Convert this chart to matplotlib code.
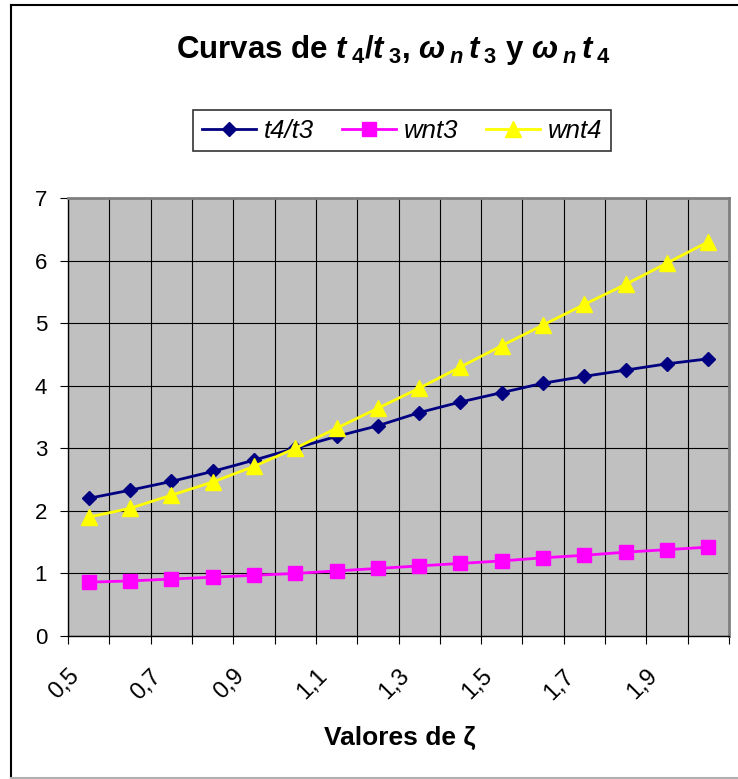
import numpy as np
import matplotlib
matplotlib.use("Agg")
import matplotlib.pyplot as plt
from matplotlib.lines import Line2D
from matplotlib.transforms import ScaledTranslation

# ---- data ----
categories = ['0,5', '0,6', '0,7', '0,8', '0,9', '1', '1,1', '1,2',
              '1,3', '1,4', '1,5', '1,6', '1,7', '1,8', '1,9', '2']
t4_t3 = [2.20, 2.33, 2.47, 2.63, 2.81, 3.00, 3.19, 3.36,
         3.57, 3.74, 3.89, 4.04, 4.15, 4.25, 4.35, 4.43]
wnt3 = [0.86, 0.88, 0.91, 0.94, 0.97, 1.00, 1.04, 1.08,
        1.12, 1.16, 1.20, 1.25, 1.29, 1.34, 1.38, 1.42]
wnt4 = [1.90, 2.04, 2.25, 2.46, 2.71, 3.00, 3.32, 3.64,
        3.96, 4.30, 4.64, 4.97, 5.30, 5.62, 5.96, 6.30]
y_ticks = [0, 1, 2, 3, 4, 5, 6, 7]
series_names = ['t4/t3', 'wnt3', 'wnt4']

plt.rcParams['font.family'] = ['Liberation Sans', 'DejaVu Sans']
plt.rcParams['mathtext.fontset'] = 'custom'
plt.rcParams['mathtext.rm'] = 'Liberation Sans:bold'
plt.rcParams['mathtext.bf'] = 'Liberation Sans:bold'
plt.rcParams['mathtext.it'] = 'Liberation Sans:italic:bold'

W, H = 738, 779
fig = plt.figure(figsize=(W / 100, H / 100), dpi=100)
fig.patch.set_facecolor('white')

# outer chart border
fig.add_artist(Line2D([11 / W, 1.0], [1 - 5 / H, 1 - 5 / H], color='black', lw=1.5))
fig.add_artist(Line2D([11 / W, 11 / W], [1 - 5 / H, 1 - 778 / H], color='black', lw=1.5))
fig.add_artist(Line2D([11 / W, 1.0], [1 - 778 / H, 1 - 778 / H], color='#b0b0b0', lw=1.5))

left, right, top, bottom = 68, 729, 198, 636
ax = fig.add_axes([left / W, 1 - bottom / H, (right - left) / W, (bottom - top) / H])
ax.set_facecolor('#C0C0C0')

n = len(categories)
x = np.arange(n) + 0.5

ax.plot(x, t4_t3, color='#000080', marker='D', ms=7, lw=2, label=series_names[0], zorder=3)
ax.plot(x, wnt3, color='#FF00FF', marker='s', ms=10, lw=2, label=series_names[1], zorder=3)
ax.plot(x, wnt4, color='#FFFF00', marker='^', ms=12, lw=2, label=series_names[2], zorder=4)

ax.set_xlim(0, n)
ax.set_ylim(0, 7)

# grid
ax.set_xticks(np.arange(n + 1))
ax.set_xticklabels([])
ax.set_yticks(y_ticks)
ax.set_yticklabels([str(v) for v in y_ticks], fontsize=16)
ax.grid(True, which='major', color='black', lw=0.8)
ax.set_axisbelow(True)
ax.tick_params(axis='both', which='major', direction='out', length=6, width=0.8, color='black')
ax.tick_params(axis='y', pad=9)

# category labels (every other)
ax.set_xticks(x[::2], minor=True)
ax.set_xticklabels(categories[::2], minor=True, fontsize=17, rotation=45, ha='right', va='top')
ax.tick_params(axis='x', which='minor', length=0, pad=21)
off = ScaledTranslation(-5 / 100, 0, fig.dpi_scale_trans)
for lbl in ax.get_xticklabels(minor=True):
    lbl.set_transform(lbl.get_transform() + off)

for s in ['top', 'right']:
    ax.spines[s].set_color('#808080')
    ax.spines[s].set_linewidth(2)
for s in ['left', 'bottom']:
    ax.spines[s].set_color('black')
    ax.spines[s].set_linewidth(1)

# title
fig.text(393 / W, 1 - 50 / H,
         r'Curvas de $\mathit{t}\,{}_{\mathit{4}}\mathit{/t}\,{}_{\mathit{3}}$, '
         r'$\mathit{\omega}\,{}_{\mathit{n}}\,\mathit{t}\,{}_{\mathit{3}}$ y '
         r'$\mathit{\omega}\,{}_{\mathit{n}}\,\mathit{t}\,{}_{\mathit{4}}$',
         ha='center', va='center', fontsize=22.5, fontweight='bold')

# x axis title
fig.text(400 / W, 1 - 738 / H, 'Valores de ζ', ha='center', va='center',
         fontsize=19, fontweight='bold')

# legend
leg = fig.legend(loc='center', bbox_to_anchor=(402 / W, 1 - 130.5 / H), ncol=3,
                 prop={'style': 'italic', 'size': 18.5}, frameon=True, fancybox=False,
                 edgecolor='black', handlelength=2.1, handletextpad=0.3,
                 columnspacing=1.1, borderpad=0.35, borderaxespad=0)
leg.get_frame().set_linewidth(1.2)

fig.savefig('out.png', dpi=100)
